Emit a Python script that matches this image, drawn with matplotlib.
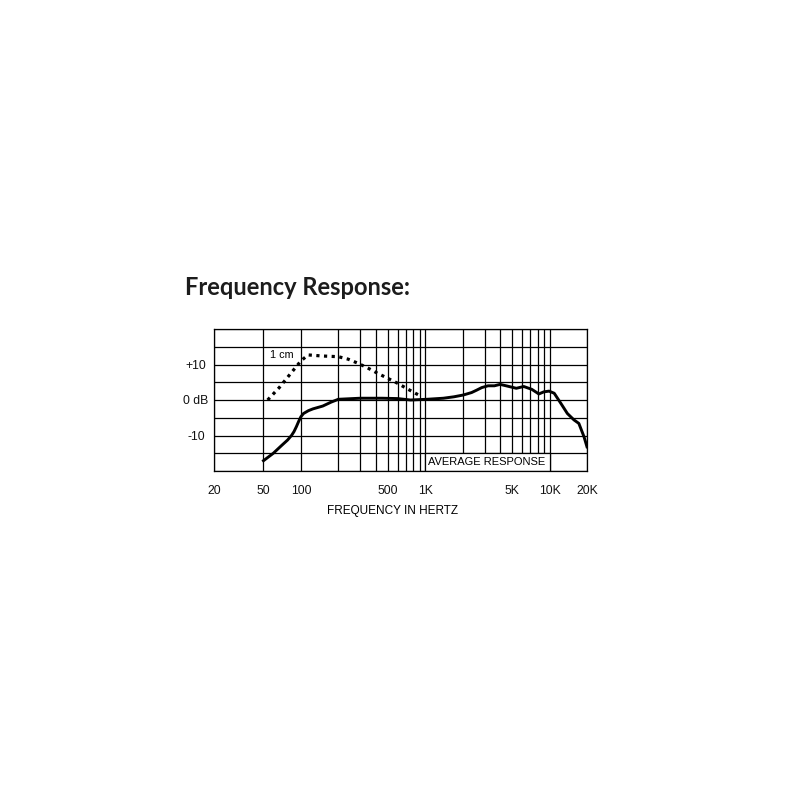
import matplotlib
matplotlib.use("Agg")
import matplotlib.pyplot as plt
from matplotlib.patches import Rectangle

# --- data ---
avg_freq = [50, 60, 70, 78, 84, 88, 92, 96, 100, 105, 115, 125, 150, 175, 200, 300, 450, 600, 760,
            1030, 1400, 1700, 2020, 2360, 2600, 2850, 3200, 3600, 4000, 4600, 5400,
            6200, 7200, 8200, 9000, 9900, 10900, 12300, 13900, 15700, 17200, 18900, 20000]
avg_db = [-17.1, -15.0, -12.8, -11.3, -10.0, -8.9, -7.5, -6.0, -4.7, -3.8, -3.0, -2.5, -1.7, -0.6, 0.2, 0.5, 0.5, 0.4, 0.0,
          0.2, 0.5, 0.9, 1.4, 2.1, 2.8, 3.5, 4.0, 4.0, 4.4, 3.9, 3.3,
          3.8, 3.0, 1.7, 2.3, 2.5, 1.9, -0.9, -3.8, -5.6, -6.6, -10.3, -13.2]

cm_freq = [54, 67, 82, 100, 114, 148, 200, 240, 290, 350, 415, 500, 600, 730, 940]
cm_db = [0.0, 3.5, 7.3, 11.0, 12.7, 12.4, 12.2, 11.5, 10.3, 8.9, 7.5, 6.1, 4.7, 3.0, 0.9]

x_tick_vals = [20, 50, 100, 500, 1000, 5000, 10000, 20000]
x_tick_labels = ["20", "50", "100", "500", "1K", "5K", "10K", "20K"]
x_grid_vals = [50, 100, 200, 300, 400, 500, 600, 700, 800, 900,
               1000, 2000, 3000, 4000, 5000, 6000, 7000, 8000, 9000, 10000]
y_grid_vals = [-20, -15, -10, -5, 0, 5, 10, 15, 20]
y_tick_labels = ["", "", "-10", "", "0 dB", "", "+10", "", ""]

fig = plt.figure(figsize=(8, 8), dpi=100)
fig.patch.set_facecolor("white")
ax = fig.add_axes([214 / 800, 1 - 471 / 800, (587 - 214) / 800, (471 - 329) / 800])
ax.set_xscale("log")
ax.set_xlim(20, 20000)
ax.set_ylim(-20, 20)

ax.set_xticks(x_tick_vals)
ax.set_xticklabels(x_tick_labels)
ax.set_xticks(x_grid_vals, minor=True)
ax.xaxis.set_minor_formatter(matplotlib.ticker.NullFormatter())
ax.set_yticks(y_grid_vals)
ax.set_yticklabels(y_tick_labels)
ax.tick_params(axis="both", which="both", length=0)
ax.tick_params(axis="x", pad=10, labelsize=8.8)
ax.tick_params(axis="y", pad=13, labelsize=8.8)
for lab in ax.get_xticklabels() + ax.get_yticklabels():
    lab.set_fontfamily("Liberation Sans")
    lab.set_color("#111111")
for lab in ax.get_yticklabels():
    lab.set_horizontalalignment("center")

ax.grid(which="both", color="black", linewidth=0.9)
ax.set_axisbelow(True)
for s in ax.spines.values():
    s.set_linewidth(0.9)

# white box with label
ax.add_patch(Rectangle((1000, -20), 9000, 5, facecolor="white", edgecolor="black",
                       linewidth=0.9, zorder=1.5))
ax.text(3100, -17.6, "AVERAGE RESPONSE", ha="center", va="center", fontsize=8.0,
        family="Liberation Sans", zorder=3)

ax.plot(avg_freq, avg_db, color="black", linewidth=2.1, zorder=4,
        solid_joinstyle="round")
ax.plot(cm_freq, cm_db, color="black", linewidth=2.3, linestyle=(0, (1, 1.4)),
        dash_capstyle="butt", zorder=4)
ax.text(70, 12.7, "1 cm", ha="center", va="center", fontsize=7.8,
        family="Liberation Sans", zorder=3)

fig.text(393 / 800, 1 - 511 / 800, "FREQUENCY IN HERTZ", ha="center", va="center",
         fontsize=8.5, family="Liberation Sans")
fig.text(185 / 800, 1 - 295 / 800, "Frequency Response:", ha="left", va="baseline",
         fontsize=17, fontweight="bold", family="Lato", color="#1c1c1c")

fig.savefig("out.png", dpi=100)
